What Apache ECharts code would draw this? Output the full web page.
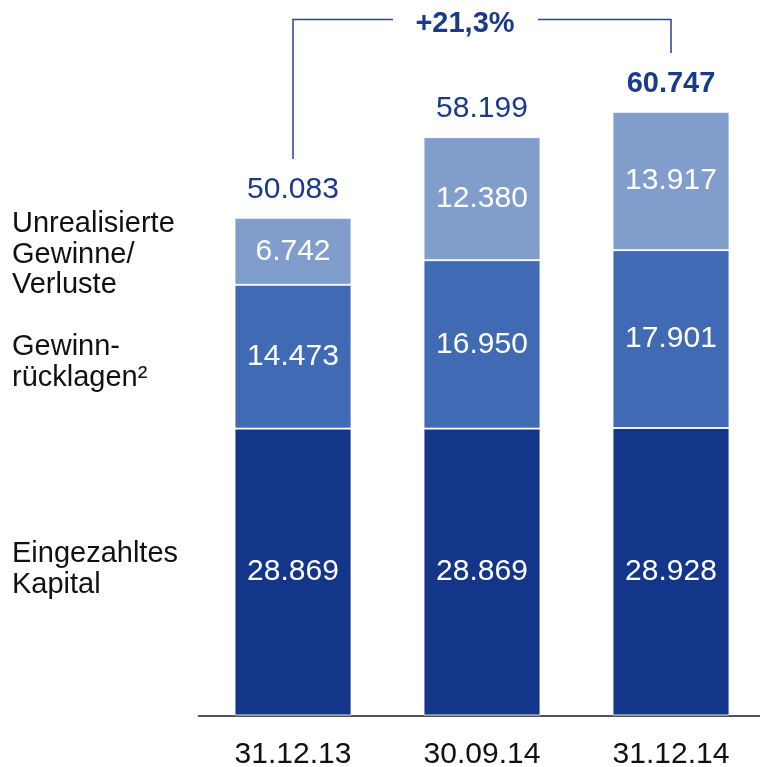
<!DOCTYPE html>
<html>
<head>
<meta charset="utf-8">
<script src="https://cdn.jsdelivr.net/npm/echarts@6/dist/echarts.min.js"></script>
<style>
html,body{margin:0;padding:0;background:#fff;}
#chart{width:760px;height:767px;}
</style>
</head>
<body>
<div id="chart"></div>
<script>
var categories = ['31.12.13', '30.09.14', '31.12.14'];
var eingezahltesKapital = [28869, 28869, 28928];
var gewinnruecklagen = [14473, 16950, 17901];
var unrealisierteGewinne = [6742, 12380, 13917];
var totals = [50083, 58199, 60747];
var growthLabel = '+21,3%';
var rowLabels = ['Unrealisierte\nGewinne/\nVerluste', 'Gewinn-\nrücklagen²', 'Eingezahltes\nKapital'];

var FONT = '"Liberation Sans", Arial, Helvetica, sans-serif';
var NAVY = '#14368a';
var MID = '#416ab4';
var LIGHT = '#809dcc';
var TEXTNAVY = '#1b3a8c';

function fmt(v) {
  return String(v).replace(/\B(?=(\d{3})+(?!\d))/g, '.');
}

var chart = echarts.init(document.getElementById('chart'), null, {renderer: 'canvas'});

function barSeries(name, data, color) {
  return {
    name: name,
    type: 'bar',
    stack: 'total',
    barWidth: 117,
    data: data,
    itemStyle: {color: color, borderColor: 'rgba(255,255,255,0.85)', borderWidth: 1},
    label: {
      show: true,
      position: 'inside',
      color: '#fff',
      fontFamily: FONT,
      fontSize: 30,
      formatter: function (p) { return fmt(p.value); }
    },
    emphasis: {disabled: true},
    animation: false
  };
}

var option = {
  animation: false,
  grid: {left: 198.5, right: -5.5, top: 0, bottom: 51.5, containLabel: false, outerBoundsMode: 'none'},
  xAxis: {
    type: 'category',
    data: categories,
    axisLine: {lineStyle: {color: '#1a1a1a', width: 1.5}},
    axisTick: {show: false},
    axisLabel: {color: '#111', fontFamily: FONT, fontSize: 30, margin: 24}
  },
  yAxis: {type: 'value', min: 0, max: 72000, show: false, splitLine: {show: false}},
  series: [
    barSeries('Eingezahltes Kapital', eingezahltesKapital, NAVY),
    barSeries('Gewinnrücklagen', gewinnruecklagen, MID),
    barSeries('Unrealisierte Gewinne/Verluste', unrealisierteGewinne, LIGHT),
    {
      type: 'scatter',
      data: totals,
      symbolSize: 1,
      itemStyle: {color: 'rgba(0,0,0,0)', opacity: 1},
      label: {
        show: true,
        position: 'top',
        distance: 13,
        opacity: 1,
        formatter: function (p) {
          return p.dataIndex === totals.length - 1 ? '{b|' + fmt(p.value) + '}' : '{n|' + fmt(p.value) + '}';
        },
        rich: {
          n: {fontFamily: FONT, fontSize: 30, color: TEXTNAVY},
          b: {fontFamily: FONT, fontSize: 29, fontWeight: 'bold', color: TEXTNAVY}
        }
      },
      emphasis: {disabled: true},
      animation: false
    }
  ]
};
chart.setOption(option);

var x0 = chart.convertToPixel({xAxisIndex: 0}, categories[0]);
var x2 = chart.convertToPixel({xAxisIndex: 0}, categories[2]);
var lineY = 19.5;
var textX = x0 + 172;
var lineStyle = {stroke: '#2a4394', lineWidth: 1.5, fill: null};
var labelFont = '29px ' + FONT;

chart.setOption({
  graphic: [
    {type: 'polyline', shape: {points: [[x0, 159], [x0, lineY], [textX - 72, lineY]]}, style: lineStyle, silent: true},
    {type: 'polyline', shape: {points: [[textX + 73, lineY], [x2, lineY], [x2, 53]]}, style: lineStyle, silent: true},
    {type: 'text', x: textX, y: 24, style: {text: growthLabel, fill: TEXTNAVY, font: 'bold 29px ' + FONT, textAlign: 'center', textVerticalAlign: 'middle'}, silent: true},
    {type: 'text', x: 12, y: 209, style: {text: rowLabels[0], fill: '#111', font: labelFont, lineHeight: 30.5, textAlign: 'left', textVerticalAlign: 'top'}, silent: true},
    {type: 'text', x: 12, y: 332, style: {text: rowLabels[1], fill: '#111', font: labelFont, lineHeight: 30.5, textAlign: 'left', textVerticalAlign: 'top'}, silent: true},
    {type: 'text', x: 12, y: 539, style: {text: rowLabels[2], fill: '#111', font: labelFont, lineHeight: 30.5, textAlign: 'left', textVerticalAlign: 'top'}, silent: true}
  ]
});
</script>
</body>
</html>
